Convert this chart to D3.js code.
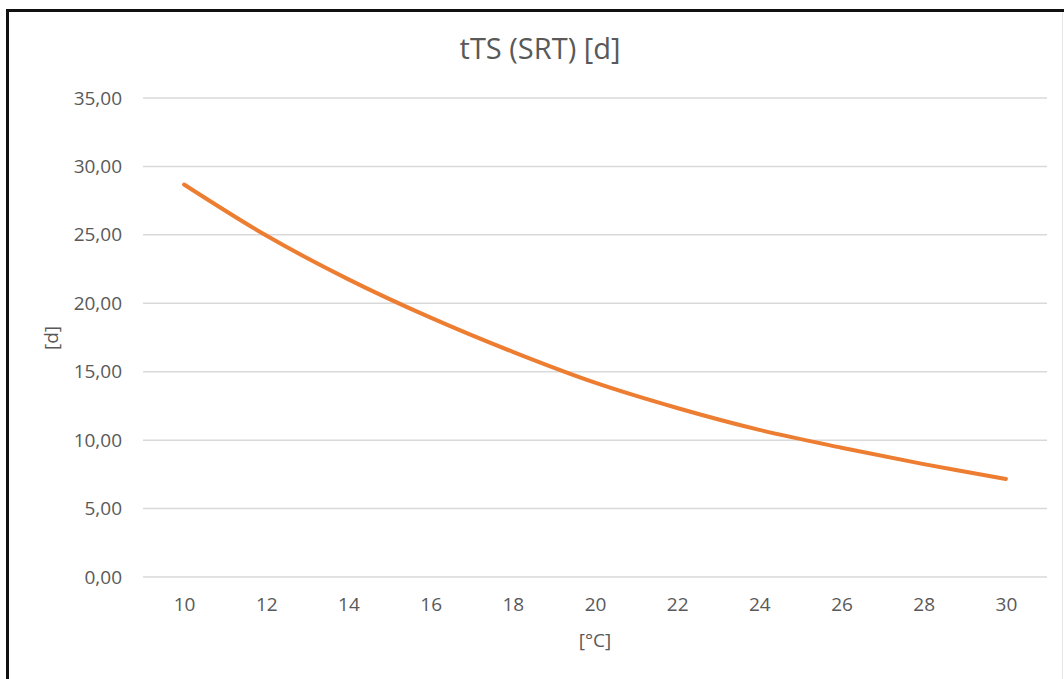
<!DOCTYPE html>
<html>
<head>
<meta charset="utf-8">
<script src="https://cdn.jsdelivr.net/npm/d3@7"></script>
<style>
  html, body { margin: 0; padding: 0; background: #fff; }
  svg { display: block; }
  text { font-family: "Open Sans", "Noto Sans", sans-serif; fill: #595959; }
</style>
</head>
<body>
<svg id="chart" width="1064" height="679"></svg>
<script>
const categories = [10, 12, 14, 16, 18, 20, 22, 24, 26, 28, 30];
const srtValues = [28.68, 24.95, 21.75, 18.95, 16.45, 14.2, 12.35, 10.75, 9.45, 8.25, 7.16];
const yTicks = [0, 5, 10, 15, 20, 25, 30, 35];
const titleText = "tTS (SRT) [d]";
const xLabel = "[°C]";
const yLabel = "[d]";

const svg = d3.select("#chart");
const W = 1064, H = 679;

svg.append("rect").attr("x", 0).attr("y", 0).attr("width", W).attr("height", H).attr("fill", "#fff");

// outer frame (left and top visible; faint right edge)
svg.append("rect")
  .attr("x", 7.5).attr("y", 10.5)
  .attr("width", W + 20).attr("height", H + 20)
  .attr("fill", "none").attr("stroke", "#111").attr("stroke-width", 3);
svg.append("line")
  .attr("x1", 1062.5).attr("x2", 1062.5).attr("y1", 12).attr("y2", H)
  .attr("stroke", "#e6e6e6").attr("stroke-width", 1);

const x = d3.scalePoint().domain(categories).range([143, 1047]).padding(0.5);
const y = d3.scaleLinear().domain([0, 35]).range([577, 98]);

// gridlines
svg.append("g")
  .selectAll("line").data(yTicks).join("line")
  .attr("x1", 143).attr("x2", 1047)
  .attr("y1", d => y(d)).attr("y2", d => y(d))
  .attr("stroke", "#d9d9d9").attr("stroke-width", 1.5);

// y axis labels
const fmt = d => d3.format(".2f")(d).replace(".", ",");
const yAxis = d3.axisLeft(y).tickValues(yTicks).tickFormat(fmt).tickSize(0).tickPadding(0);
const gy = svg.append("g").attr("transform", "translate(122,0)").call(yAxis);
gy.select(".domain").remove();
gy.selectAll("text").attr("font-size", 19).attr("fill", "#595959")
  .style("font-family", "'Open Sans', sans-serif");

// x axis labels
const xAxis = d3.axisBottom(x).tickSize(0).tickPadding(0);
const gx = svg.append("g").attr("transform", "translate(0,597)").call(xAxis);
gx.select(".domain").remove();
gx.selectAll("text").attr("font-size", 19).attr("fill", "#595959")
  .style("font-family", "'Open Sans', sans-serif");

// line
const line = d3.line()
  .x((d, i) => x(categories[i]))
  .y(d => y(d))
  .curve(d3.curveCatmullRom.alpha(0.5));
svg.append("path")
  .datum(srtValues)
  .attr("d", line)
  .attr("fill", "none")
  .attr("stroke", "#ED7D31")
  .attr("stroke-width", 4)
  .attr("stroke-linecap", "round");

// title
svg.append("text")
  .attr("x", 540).attr("y", 59)
  .attr("text-anchor", "middle")
  .attr("font-size", 29)
  .text(titleText);

// axis titles
svg.append("text")
  .attr("x", 595).attr("y", 647)
  .attr("text-anchor", "middle")
  .attr("font-size", 19)
  .text(xLabel);

svg.append("text")
  .attr("transform", "translate(58,338) rotate(-90)")
  .attr("text-anchor", "middle")
  .attr("font-size", 19)
  .text(yLabel);
</script>
</body>
</html>
